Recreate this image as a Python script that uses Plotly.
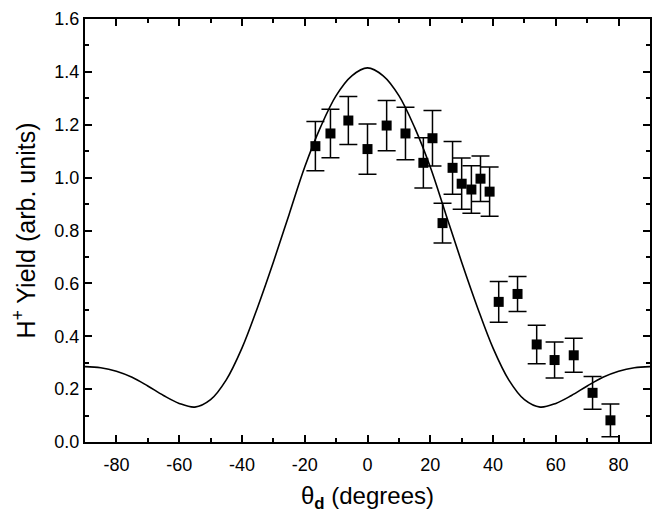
import plotly.graph_objects as go

# Measured H+ yield vs angle
theta = [-16.6, -11.8, -6.1, 0.0, 6.1, 12.1, 17.8, 20.7, 23.9, 27.1, 30.0,
         33.1, 36.0, 38.9, 41.8, 47.8, 53.9, 59.6, 65.7, 71.7, 77.4]
yield_vals = [1.119, 1.167, 1.216, 1.108, 1.197, 1.167, 1.056, 1.149, 0.828,
              1.037, 0.977, 0.955, 0.996, 0.947, 0.53, 0.56, 0.369, 0.31,
              0.328, 0.186, 0.082]
yield_err = [0.093, 0.092, 0.091, 0.095, 0.095, 0.099, 0.095, 0.105, 0.075,
             0.10, 0.097, 0.09, 0.086, 0.093, 0.077, 0.066, 0.073, 0.068,
             0.064, 0.062, 0.062]

# Theory curve
curve_theta = [-90, -85, -80, -75, -70, -65, -60, -55, -50, -45, -40, -35, -30,
               -25, -20, -15, -10, -5, 0, 5, 10, 15, 20, 25, 30, 35, 40, 45,
               50, 55, 60, 65, 70, 75, 80, 85, 90]
curve_vals = [0.285, 0.281, 0.268, 0.245, 0.212, 0.176, 0.146, 0.132, 0.160,
              0.235, 0.355, 0.51, 0.68, 0.86, 1.04, 1.19, 1.31, 1.385, 1.415,
              1.385, 1.31, 1.19, 1.04, 0.86, 0.68, 0.51, 0.355, 0.235, 0.160,
              0.132, 0.146, 0.176, 0.212, 0.245, 0.268, 0.281, 0.285]

x_ticks = [-80, -60, -40, -20, 0, 20, 40, 60, 80]
y_ticks = [0.0, 0.2, 0.4, 0.6, 0.8, 1.0, 1.2, 1.4, 1.6]

FONT = "Liberation Sans, Arial, sans-serif"

fig = go.Figure()
fig.add_trace(go.Scatter(
    x=curve_theta, y=curve_vals, mode="lines",
    line=dict(color="black", width=1.6, shape="spline", smoothing=1.0),
    showlegend=False, hoverinfo="skip"))
fig.add_trace(go.Scatter(
    x=theta, y=yield_vals, mode="markers",
    marker=dict(symbol="square", size=10, color="black"),
    error_y=dict(type="data", array=yield_err, visible=True,
                 color="black", thickness=1.5, width=9),
    showlegend=False))

axis_common = dict(
    showgrid=False, zeroline=False, showline=True, linecolor="black",
    linewidth=2, mirror="allticks", ticks="inside", ticklen=7, tickwidth=2,
    tickcolor="black", tickfont=dict(family=FONT, size=18, color="black"),
    automargin=False, ticklabeloverflow="allow",
)

fig.update_xaxes(
    range=[-90, 90], tickmode="array", tickvals=x_ticks,
    ticktext=[str(v) for v in x_ticks], ticklabelstandoff=5,
    minor=dict(ticks="inside", ticklen=4, tickwidth=1.5, dtick=10,
               tick0=0, tickcolor="black"),
    title=dict(text="θ<sub><b>d</b></sub> (degrees)",
               font=dict(family=FONT, size=24, color="black"), standoff=14),
    **axis_common)
fig.update_yaxes(
    range=[0, 1.6], tickmode="array", tickvals=y_ticks,
    ticktext=[f"{v:.1f}" for v in y_ticks],
    minor=dict(ticks="inside", ticklen=4, tickwidth=1.5, dtick=0.1,
               tick0=0, tickcolor="black"),
    title=dict(text="H<sup>+</sup> Yield (arb. units)",
               font=dict(family=FONT, size=25, color="black"), standoff=18),
    **axis_common)

# page body has an 8px margin; compensate so the plot lands where the reference has it
fig.update_layout(
    width=655, height=506,
    margin=dict(l=77, r=13, t=11, b=72),
    paper_bgcolor="white", plot_bgcolor="white",
    font=dict(family=FONT, color="black"),
)

fig.write_html("out.html")
